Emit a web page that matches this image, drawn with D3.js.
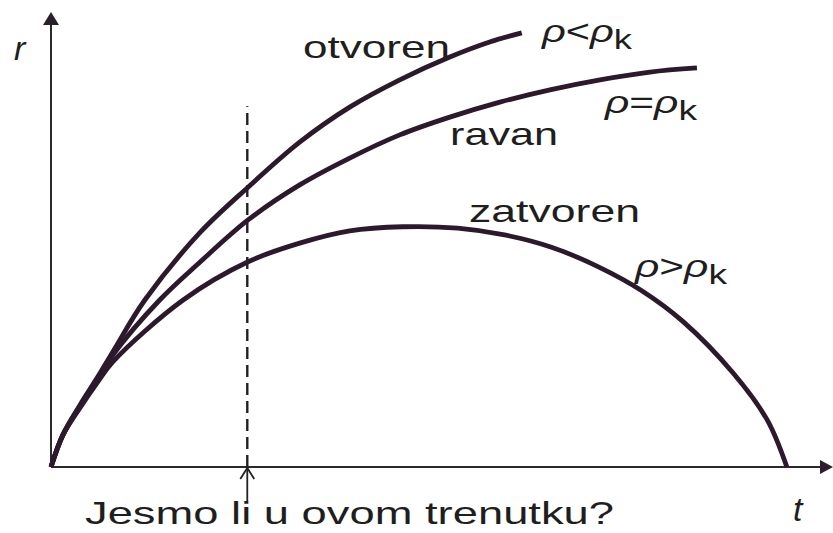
<!DOCTYPE html>
<html>
<head>
<meta charset="utf-8">
<script src="https://cdn.jsdelivr.net/npm/d3@7"></script>
<style>
  body { margin: 0; background: #fff; }
  svg { display: block; font-family: "Liberation Sans", Arial, sans-serif; }
</style>
</head>
<body>
<div id="chart"></div>
<script>
// curve data, t and r in 0..100 units
const openT   = [0, 1.5, 3.7, 5.9, 7.9, 12.0, 19.1, 25.2, 31.8, 38.2, 44.6, 51.0, 56.1, 60.2];
const openR   = [0, 7.0, 13.6, 19.6, 25.3, 36.7, 51.6, 61.5, 71.4, 79.1, 85.1, 90.1, 93.4, 95.4];

const flatT   = [0, 1.5, 3.7, 5.9, 7.9, 13.9, 19.1, 25.2, 31.8, 38.2, 44.6, 51.0, 57.4, 63.8, 70.2, 76.6, 82.6];
const flatR   = [0, 7.0, 13.4, 19.1, 24.6, 36.7, 45.1, 54.3, 62.0, 67.9, 73.0, 76.9, 80.2, 82.9, 85.1, 86.8, 87.7];

const closedT = [0, 1.5, 3.7, 5.9, 7.9, 16.9, 25.2, 31.8, 38.2, 45.0, 52.0, 58.0, 64.0, 70.0, 75.5, 80.8, 87.2, 91.6, 94.1];
const closedR = [0, 6.9, 13.0, 18.5, 23.1, 36.7, 45.1, 49.2, 51.9, 52.8, 52.5, 51.0, 48.3, 44.0, 38.8, 32.0, 20.7, 10.3, 0];

// "now" marker
const nowT = 25.1;
const nowTopR = 79.3;

const width = 833, height = 533;
const origin = {x: 51, y: 467};
const ink = "#2c1a2c";

let svg = d3.select("#chart")
    .append("svg")
    .attr("width", width)
    .attr("height", height);

svg.append("rect").attr("width", width).attr("height", height).attr("fill", "#fff");

let x = d3.scaleLinear().domain([0, 100]).range([origin.x, 833]);
let y = d3.scaleLinear().domain([0, 100]).range([origin.y, 12]);

// axes
svg.append("line")
    .attr("x1", x(0)).attr("y1", y(0))
    .attr("x2", x(0)).attr("y2", y(100) + 10)
    .attr("stroke", "#2a2a2a").attr("stroke-width", 2);
svg.append("path")
    .attr("d", `M${x(0)},${y(100)} L${x(0) - 8},${y(100) + 13} L${x(0) + 8},${y(100) + 13} Z`)
    .attr("fill", "#2a1f2a");

svg.append("line")
    .attr("x1", x(0)).attr("y1", y(0))
    .attr("x2", x(100) - 10).attr("y2", y(0))
    .attr("stroke", "#2a2a2a").attr("stroke-width", 2.2);
svg.append("path")
    .attr("d", `M${x(100)},${y(0)} L${x(100) - 13},${y(0) - 7} L${x(100) - 13},${y(0) + 7} Z`)
    .attr("fill", "#2a1f2a");

// dashed "now" line and arrow
svg.append("line")
    .attr("x1", x(nowT)).attr("y1", y(0))
    .attr("x2", x(nowT)).attr("y2", y(nowTopR))
    .attr("stroke", "#222").attr("stroke-width", 2.4)
    .attr("stroke-dasharray", "12,6");
svg.append("line")
    .attr("x1", x(nowT)).attr("y1", y(0) + 1)
    .attr("x2", x(nowT)).attr("y2", y(0) + 34)
    .attr("stroke", "#222").attr("stroke-width", 1.8);
svg.append("path")
    .attr("d", `M${x(nowT) - 7},${y(0) + 12} L${x(nowT)},${y(0) + 1} L${x(nowT) + 7},${y(0) + 12}`)
    .attr("fill", "none").attr("stroke", "#222").attr("stroke-width", 1.8);

// curves
let line = d3.line()
    .x(d => x(d[0]))
    .y(d => y(d[1]))
    .curve(d3.curveCatmullRom.alpha(0.5));

let series = [
    d3.zip(openT, openR),
    d3.zip(flatT, flatR),
    d3.zip(closedT, closedR)
];

svg.selectAll("path.curve")
    .data(series)
    .enter()
    .append("path")
    .attr("class", "curve")
    .attr("d", line)
    .attr("fill", "none")
    .attr("stroke", ink)
    .attr("stroke-width", 4.8)
    .attr("stroke-linecap", "butt");

// plain labels
const words = [
    {text: "otvoren",  x: 303, y: 58,  len: 147},
    {text: "ravan",    x: 450, y: 145, len: 108},
    {text: "zatvoren", x: 469, y: 222, len: 171},
    {text: "Jesmo li u ovom trenutku?", x: 85, y: 524, len: 529}
];

svg.selectAll("text.word")
    .data(words)
    .enter()
    .append("text")
    .attr("class", "word")
    .attr("x", d => d.x)
    .attr("y", d => d.y)
    .attr("textLength", d => d.len)
    .attr("lengthAdjust", "spacingAndGlyphs")
    .style("font-size", "32px")
    .style("fill", "#1e1e1e")
    .text(d => d.text);

// density conditions
const conds = [
    {op: "<", x: 542, y: 42,  len: 90},
    {op: "=", x: 605, y: 113, len: 92},
    {op: ">", x: 635, y: 277, len: 92}
];

conds.forEach(function(c) {
    let t = svg.append("text")
        .attr("x", c.x)
        .attr("y", c.y)
        .attr("textLength", c.len)
        .attr("lengthAdjust", "spacingAndGlyphs")
        .style("font-size", "32px")
        .style("fill", "#1e1e1e");
    t.append("tspan").style("font-style", "italic").text("\u03C1");
    t.append("tspan").text(c.op);
    t.append("tspan").style("font-style", "italic").text("\u03C1");
    t.append("tspan").attr("dy", 7).style("font-size", "28px").text("k");
});

// axis names
svg.append("text")
    .attr("x", 14).attr("y", 60)
    .style("font-size", "34px").style("font-style", "italic")
    .style("fill", "#1e1e1e")
    .text("r");
svg.append("text")
    .attr("x", 793).attr("y", 521)
    .style("font-size", "34px").style("font-style", "italic")
    .style("fill", "#1e1e1e")
    .text("t");
</script>
</body>
</html>
